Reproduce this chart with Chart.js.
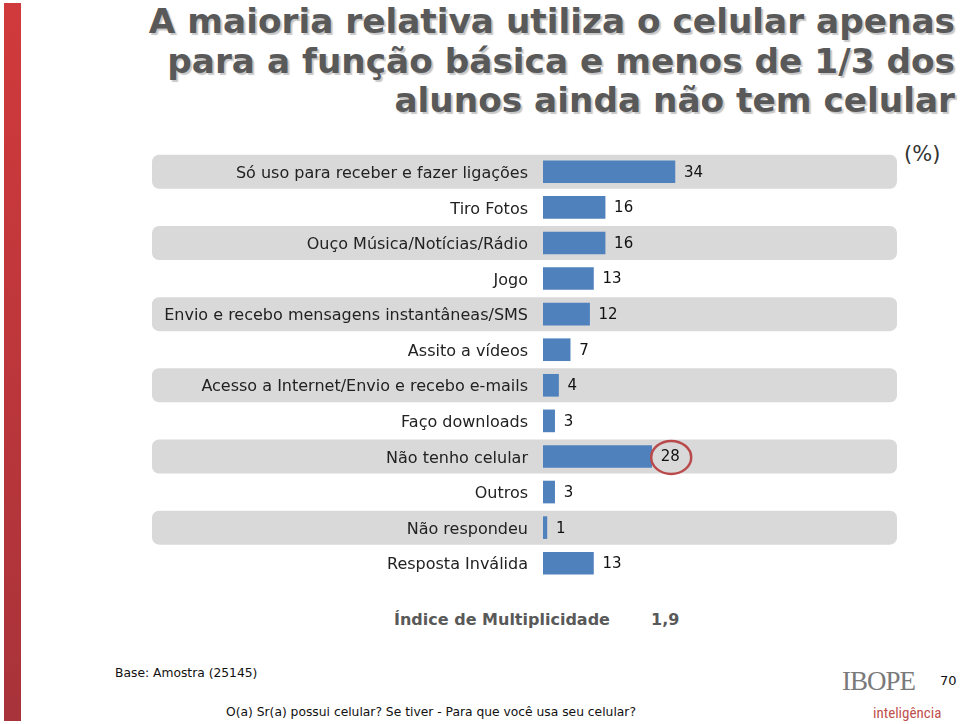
<!DOCTYPE html>
<html>
<head>
<meta charset="utf-8">
<script src="https://cdn.jsdelivr.net/npm/chart.js@4/dist/chart.umd.min.js"></script>
<style>
	body { margin: 0; background: #fff; font-family: "DejaVu Sans", Verdana, sans-serif; }
	#page { position: relative; width: 960px; height: 724px; overflow: hidden; }
	#redbar { position: absolute; left: 4px; top: 3px; width: 17px; height: 718px; background: linear-gradient(#d13a3c, #a8333a); }
	#title { position: absolute; right: 5px; top: 2px; text-align: right; font-weight: bold; font-size: 34.3px; line-height: 39.5px; color: #595959; text-shadow: 2px 2px 1px #c8c8c8; white-space: nowrap; }
	#pct { position: absolute; left: 904px; top: 142px; font-size: 21px; color: #333; }
	#grafico { position: absolute; left: 0; top: 150px; }
	#indice { position: absolute; left: 394px; top: 610px; font-size: 16px; font-weight: bold; color: #595959; }
	#indiceval { position: absolute; left: 651px; top: 610px; font-size: 16px; font-weight: bold; color: #595959; }
	.nota { position: absolute; font-size: 12.3px; color: #111; white-space: nowrap; }
	#ibope { position: absolute; left: 842px; top: 666px; font-family: "Liberation Serif", serif; font-size: 27px; color: #7a7a7a; letter-spacing: -1px; }
	#intel { position: absolute; left: 873px; top: 704px; font-family: "Liberation Sans Narrow", "Roboto Condensed", sans-serif; font-size: 15px; color: #c0504d; }
</style>
</head>
<body>
<div id="page">
	<div id="redbar"></div>
	<div id="title">A maioria relativa utiliza o celular apenas<br>para a função básica e menos de 1/3 dos<br>alunos ainda não tem celular</div>
	<div id="pct">(%)</div>
	<canvas id="grafico" width="960" height="440"></canvas>
	<div id="indice">Índice de Multiplicidade</div>
	<div id="indiceval">1,9</div>
	<div class="nota" style="left:115px;top:666px;">Base: Amostra (25145)</div>
	<div class="nota" style="left:226px;top:705px;">O(a) Sr(a) possui celular? Se tiver - Para que você usa seu celular?</div>
	<div id="ibope">IBOPE</div>
	<div id="intel">inteligência</div>
	<div class="nota" style="left:940px;top:673px;font-size:13px;">70</div>
</div>
<script>
var categorias = [
	"Só uso para receber e fazer ligações",
	"Tiro Fotos",
	"Ouço Música/Notícias/Rádio",
	"Jogo",
	"Envio e recebo mensagens instantâneas/SMS",
	"Assito a vídeos",
	"Acesso a Internet/Envio e recebo e-mails",
	"Faço downloads",
	"Não tenho celular",
	"Outros",
	"Não respondeu",
	"Resposta Inválida"
];
var valores = [34, 16, 16, 13, 12, 7, 4, 3, 28, 3, 1, 13];
var destaque = 8; // "Não tenho celular" circulado

// faixas cinza nas linhas pares (antes dos eixos, para nao cobrir os rotulos)
var faixas = {
	id: 'faixas',
	beforeDraw: function (chart) {
		var ctx = chart.ctx;
		var y = chart.scales.y;
		ctx.save();
		ctx.fillStyle = '#d9d9d9';
		for (var i = 0; i < categorias.length; i += 2) {
			var cy = y.getPixelForValue(i);
			ctx.beginPath();
			ctx.roundRect(152, cy - 17, 745, 34, 7);
			ctx.fill();
		}
		ctx.restore();
	}
};

// rotulos de valor + circulo vermelho
var rotulos = {
	id: 'rotulos',
	afterDatasetsDraw: function (chart) {
		var ctx = chart.ctx;
		var meta = chart.getDatasetMeta(0);
		ctx.save();
		ctx.font = '15px "DejaVu Sans", Verdana, sans-serif';
		ctx.fillStyle = '#111';
		ctx.textAlign = 'left';
		ctx.textBaseline = 'middle';
		meta.data.forEach(function (bar, i) {
			var tx = bar.x + 9;
			ctx.fillText(valores[i], tx, bar.y + 1);
			if (i === destaque) {
				var w = ctx.measureText(valores[i]).width;
				ctx.beginPath();
				ctx.strokeStyle = '#b9494a';
				ctx.lineWidth = 2.5;
				ctx.ellipse(tx + w / 2 + 1, bar.y + 1, 20, 16.5, 0, 0, Math.PI * 2);
				ctx.stroke();
			}
		});
		ctx.restore();
	}
};

new Chart(document.getElementById('grafico').getContext('2d'), {
	type: 'bar',
	data: {
		labels: categorias,
		datasets: [{
			data: valores,
			backgroundColor: '#4f81bd',
			borderWidth: 0,
			barThickness: 22
		}]
	},
	options: {
		indexAxis: 'y',
		responsive: false,
		animation: false,
		layout: { padding: { top: 4, bottom: 9, right: 60 } },
		plugins: { legend: { display: false }, tooltip: { enabled: false } },
		scales: {
			x: { display: false, min: 0, max: 92 },
			y: {
				grid: { display: false, drawTicks: false },
				border: { display: false },
				ticks: {
					autoSkip: false,
					padding: 15,
					labelOffset: 2,
					color: '#222',
					font: { family: '"DejaVu Sans", Verdana, sans-serif', size: 16 }
				},
				afterFit: function (scale) {
					scale.width = 543;
					scale.paddingTop = 0;
					scale.paddingBottom = 0;
				}
			}
		}
	},
	plugins: [faixas, rotulos]
});
</script>
</body>
</html>
